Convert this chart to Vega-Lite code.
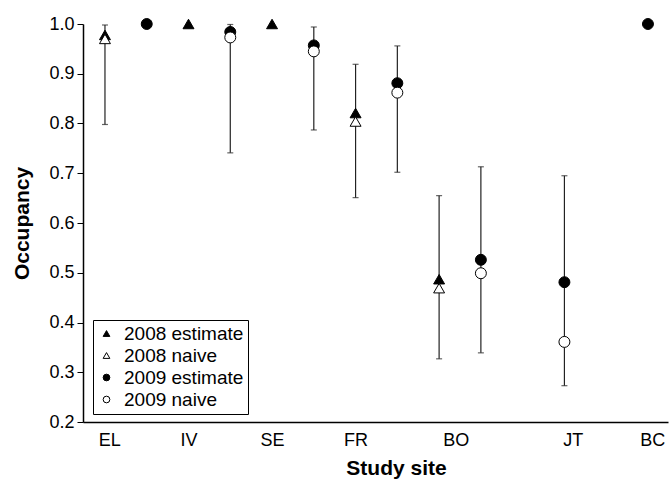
{
  "$schema": "https://vega.github.io/schema/vega-lite/v6.json",
  "width": 585,
  "height": 398,
  "autosize": {"type": "none"},
  "padding": {"left": 83, "top": 24, "right": 2, "bottom": 67},
  "background": "white",
  "config": {
    "view": {"stroke": null},
    "font": "Liberation Sans",
    "axis": {"grid": false, "domainColor": "black", "tickColor": "black", "labelColor": "black", "titleColor": "black", "labelFont": "Liberation Sans", "titleFont": "Liberation Sans"},
    "legend": {"labelFont": "Liberation Sans", "symbolStrokeColor": "black", "symbolStrokeWidth": 1}
  },
  "datasets": {
    "points": [
      {"site": "EL", "x": 1, "series": "2008 estimate", "value": 0.978},
      {"site": "EL", "x": 1, "series": "2008 naive", "value": 0.970},
      {"site": "EL", "x": 1.5, "series": "2009 estimate", "value": 1.0},
      {"site": "IV", "x": 2, "series": "2008 estimate", "value": 1.0},
      {"site": "IV", "x": 2.5, "series": "2009 estimate", "value": 0.984},
      {"site": "IV", "x": 2.5, "series": "2009 naive", "value": 0.973},
      {"site": "SE", "x": 3, "series": "2008 estimate", "value": 1.0},
      {"site": "SE", "x": 3.5, "series": "2009 estimate", "value": 0.957},
      {"site": "SE", "x": 3.5, "series": "2009 naive", "value": 0.945},
      {"site": "FR", "x": 4, "series": "2008 estimate", "value": 0.821},
      {"site": "FR", "x": 4, "series": "2008 naive", "value": 0.804},
      {"site": "FR", "x": 4.5, "series": "2009 estimate", "value": 0.881},
      {"site": "FR", "x": 4.5, "series": "2009 naive", "value": 0.862},
      {"site": "BO", "x": 5, "series": "2008 estimate", "value": 0.487},
      {"site": "BO", "x": 5, "series": "2008 naive", "value": 0.469},
      {"site": "BO", "x": 5.5, "series": "2009 estimate", "value": 0.526},
      {"site": "BO", "x": 5.5, "series": "2009 naive", "value": 0.499},
      {"site": "JT", "x": 6.5, "series": "2009 estimate", "value": 0.481},
      {"site": "JT", "x": 6.5, "series": "2009 naive", "value": 0.361},
      {"site": "BC", "x": 7.5, "series": "2009 estimate", "value": 1.0}
    ],
    "errors": [
      {"site": "EL", "x": 1, "lo": 0.798, "hi": 0.998},
      {"site": "IV", "x": 2.5, "lo": 0.741, "hi": 0.999},
      {"site": "SE", "x": 3.5, "lo": 0.787, "hi": 0.994},
      {"site": "FR", "x": 4, "lo": 0.651, "hi": 0.919},
      {"site": "FR", "x": 4.5, "lo": 0.702, "hi": 0.956},
      {"site": "BO", "x": 5, "lo": 0.327, "hi": 0.655},
      {"site": "BO", "x": 5.5, "lo": 0.339, "hi": 0.713},
      {"site": "JT", "x": 6.5, "lo": 0.273, "hi": 0.695}
    ]
  },
  "layer": [
    {
      "data": {"name": "errors"},
      "mark": {"type": "rule", "color": "#222", "strokeWidth": 1.2},
      "encoding": {
        "x": {"field": "x", "type": "quantitative", "scale": {"domain": [0.737, 7.74], "nice": false, "zero": false},
          "axis": {"values": [1.05, 2.0, 3.0, 4.0, 5.2, 6.6, 7.55],
            "labelExpr": "datum.value < 1.5 ? 'EL' : datum.value < 2.5 ? 'IV' : datum.value < 3.5 ? 'SE' : datum.value < 4.5 ? 'FR' : datum.value < 5.9 ? 'BO' : datum.value < 7 ? 'JT' : 'BC'",
            "ticks": false, "labelFontSize": 18, "labelPadding": 9, "title": "Study site", "titleFontSize": 21, "titleFontWeight": "bold", "titleX": 313, "titleY": 35, "domainWidth": 1.5}},
        "y": {"field": "lo", "type": "quantitative", "scale": {"domain": [0.2, 1.0], "nice": false, "zero": false},
          "axis": {"values": [0.2, 0.3, 0.4, 0.5, 0.6, 0.7, 0.8, 0.9, 1.0], "format": ".1f", "tickSize": 6, "labelFontSize": 18, "labelPadding": 3, "title": "Occupancy", "titleFontSize": 21, "titleFontWeight": "bold", "titlePadding": 16, "domainWidth": 1.5}},
        "y2": {"field": "hi"}
      }
    },
    {
      "data": {"name": "errors"},
      "mark": {"type": "tick", "orient": "horizontal", "color": "#222", "size": 6, "thickness": 1.2},
      "encoding": {
        "x": {"field": "x", "type": "quantitative"},
        "y": {"field": "lo", "type": "quantitative"}
      }
    },
    {
      "data": {"name": "errors"},
      "mark": {"type": "tick", "orient": "horizontal", "color": "#222", "size": 6, "thickness": 1.2},
      "encoding": {
        "x": {"field": "x", "type": "quantitative"},
        "y": {"field": "hi", "type": "quantitative"}
      }
    },
    {
      "data": {"name": "points"},
      "mark": {"type": "point", "filled": false, "strokeWidth": 1, "opacity": 1, "size": 120, "clip": false},
      "encoding": {
        "x": {"field": "x", "type": "quantitative"},
        "y": {"field": "value", "type": "quantitative"},
        "shape": {"field": "series", "type": "nominal",
          "scale": {"domain": ["2008 estimate", "2008 naive", "2009 estimate", "2009 naive"], "range": ["triangle-up", "triangle-up", "circle", "circle"]},
          "legend": {"title": null, "orient": "none", "legendX": 10, "legendY": 296, "strokeColor": "black", "fillColor": "white", "padding": 4, "labelFontSize": 19, "symbolSize": 45, "rowPadding": 2, "labelLimit": 300, "labelOffset": 8}},
        "fill": {"field": "series", "type": "nominal",
          "scale": {"domain": ["2008 estimate", "2008 naive", "2009 estimate", "2009 naive"], "range": ["black", "white", "black", "white"]},
          "legend": {"title": null, "orient": "none", "legendX": 10, "legendY": 296, "strokeColor": "black", "fillColor": "white", "padding": 4, "labelFontSize": 19, "symbolSize": 45, "rowPadding": 2, "labelLimit": 300, "labelOffset": 8}},
        "stroke": {"field": "series", "type": "nominal",
          "scale": {"domain": ["2008 estimate", "2008 naive", "2009 estimate", "2009 naive"], "range": ["black", "black", "black", "black"]},
          "legend": {"title": null, "orient": "none", "legendX": 10, "legendY": 296, "strokeColor": "black", "fillColor": "white", "padding": 4, "labelFontSize": 19, "symbolSize": 45, "rowPadding": 2, "labelLimit": 300, "labelOffset": 8}}
      }
    }
  ]
}
